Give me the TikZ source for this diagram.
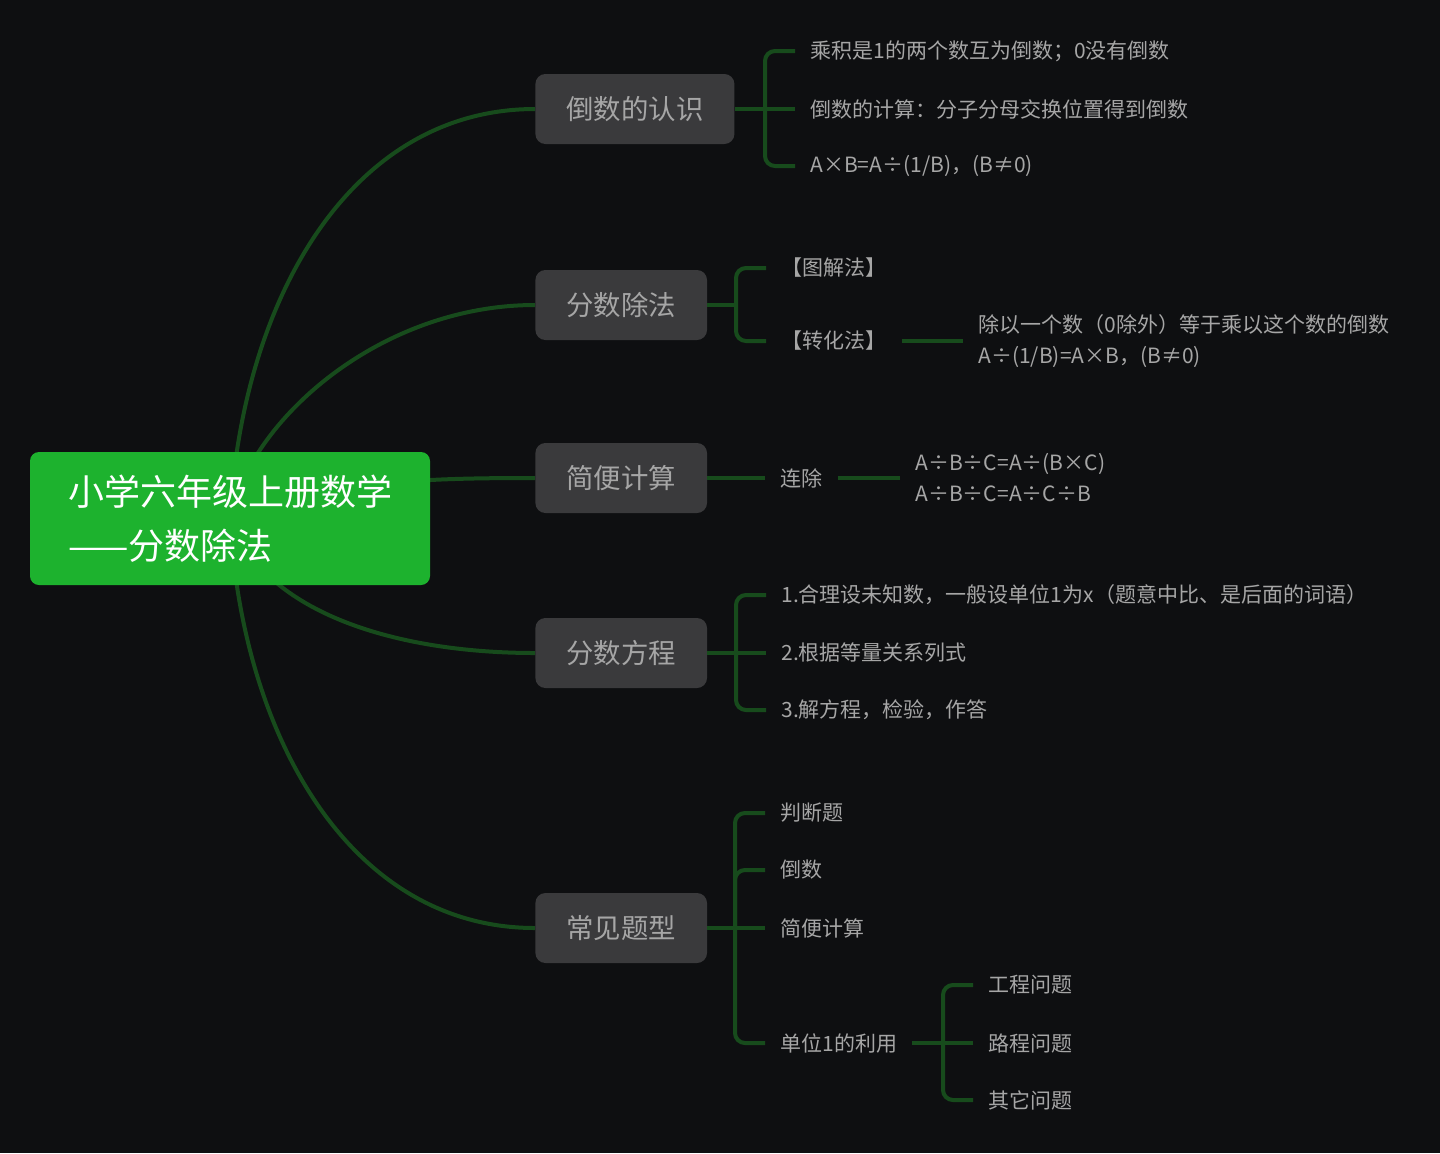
\documentclass[tikz,border=0pt]{standalone}
\usepackage{fontspec}
\setmainfont{Noto Sans CJK SC}
\usetikzlibrary{backgrounds}
\definecolor{bgdark}{HTML}{0E0F11}
\definecolor{rootgreen}{HTML}{1DB22E}
\definecolor{boxgrey}{HTML}{3A3A3C}
\definecolor{txtgrey}{HTML}{A6A6A6}
\definecolor{linkgreen}{HTML}{174B1C}
\begin{document}
\begin{tikzpicture}[x=0.5pt, y=-0.5pt,
    rootbox/.style={fill=rootgreen, text=white, rounded corners=4.5pt, align=left, minimum width=200pt, minimum height=66.5pt, inner xsep=17.5pt, font=\fontsize{18}{27}\selectfont},
    topic/.style={fill=boxgrey, text=txtgrey, rounded corners=5pt, minimum height=35pt, inner xsep=15.5pt, anchor=west, font=\fontsize{13.7}{16}\selectfont},
    leaf/.style={text=txtgrey, anchor=west, inner xsep=7.5pt, inner ysep=1pt, align=left, font=\fontsize{10.5}{15.5}\selectfont},
    link/.style={draw=linkgreen, line width=2pt},
    fork/.style={link, rounded corners=5pt}]
    \node[rootbox] (root) at (230, 518.5) {小学六年级上册数学\\——分数除法};
    \node[topic] (rcp) at (535, 109) {倒数的认识};
    \node[topic] (fdiv) at (535, 305) {分数除法};
    \node[topic] (easy) at (535, 478) {简便计算};
    \node[topic] (feq) at (535, 653) {分数方程};
    \node[topic] (types) at (535, 928) {常见题型};
    \node[leaf] (rcp1) at (795, 51) {乘积是1的两个数互为倒数；0没有倒数};
    \node[leaf] (rcp2) at (795, 109) {倒数的计算：分子分母交换位置得到倒数};
    \node[leaf] (rcp3) at (795, 166) {A×B=A÷(1/B)，(B≠0)};
    \node[leaf] (fd1) at (766, 268) {【图解法】};
    \node[leaf] (fd2) at (766, 341) {【转化法】};
    \node[leaf] (fd2a) at (963, 341) {除以一个数（0除外）等于乘以这个数的倒数\\A÷(1/B)=A×B，(B≠0)};
    \node[leaf] (lc) at (765, 478) {连除};
    \node[leaf] (lcf) at (900, 478) {A÷B÷C=A÷(B×C)\\A÷B÷C=A÷C÷B};
    \node[leaf] (fq1) at (766, 595) {1.合理设未知数，一般设单位1为x（题意中比、是后面的词语）};
    \node[leaf] (fq2) at (766, 653) {2.根据等量关系列式};
    \node[leaf] (fq3) at (766, 710) {3.解方程，检验，作答};
    \node[leaf] (ty1) at (765, 813) {判断题};
    \node[leaf] (ty2) at (765, 870) {倒数};
    \node[leaf] (ty3) at (765, 928) {简便计算};
    \node[leaf] (ty4) at (765, 1043) {单位1的利用};
    \node[leaf] (u1) at (973, 985) {工程问题};
    \node[leaf] (u2) at (973, 1043) {路程问题};
    \node[leaf] (u3) at (973, 1100) {其它问题};
    \coordinate (jr) at (765, 109);
    \coordinate (jf) at (736, 305);
    \coordinate (jq) at (736, 653);
    \coordinate (jt) at (735, 928);
    \coordinate (ju) at (943, 1043);
    \draw[link] (rcp) -- (jr);
    \draw[fork] (jr) |- (rcp1.west); \draw[link] (jr) -- (rcp2.west); \draw[fork] (jr) |- (rcp3.west);
    \draw[link] (fdiv) -- (jf);
    \draw[fork] (jf) |- (fd1.west); \draw[fork] (jf) |- (fd2.west);
    \draw[link] (fd2.east) -- (fd2a.west);
    \draw[link] (easy) -- (lc.west);
    \draw[link] (lc.east) -- (lcf.west);
    \draw[link] (feq) -- (jq);
    \draw[fork] (jq) |- (fq1.west); \draw[link] (jq) -- (fq2.west); \draw[fork] (jq) |- (fq3.west);
    \draw[link] (types) -- (jt);
    \draw[fork] (jt) |- (ty1.west); \draw[fork] (jt) |- (ty2.west);
    \draw[link] (jt) -- (ty3.west); \draw[fork] (jt) |- (ty4.west);
    \draw[link] (ty4.east) -- (ju);
    \draw[fork] (ju) |- (u1.west); \draw[link] (ju) -- (u2.west); \draw[fork] (ju) |- (u3.west);
    \begin{scope}[on background layer]
      \fill[bgdark] (0, 0) rectangle (1440, 1153);
      \draw[link] (root.center) .. controls (242, 300) and (350, 109) .. (rcp.west);
      \draw[link] (root.center) .. controls (250, 420) and (380, 305) .. (fdiv.west);
      \draw[link] (root.center) .. controls (330, 480) and (430, 478) .. (easy.west);
      \draw[link] (root.center) .. controls (265, 615) and (400, 653) .. (feq.west);
      \draw[link] (root.center) .. controls (242, 736) and (350, 928) .. (types.west);
    \end{scope}
  \end{tikzpicture}
\end{document}
